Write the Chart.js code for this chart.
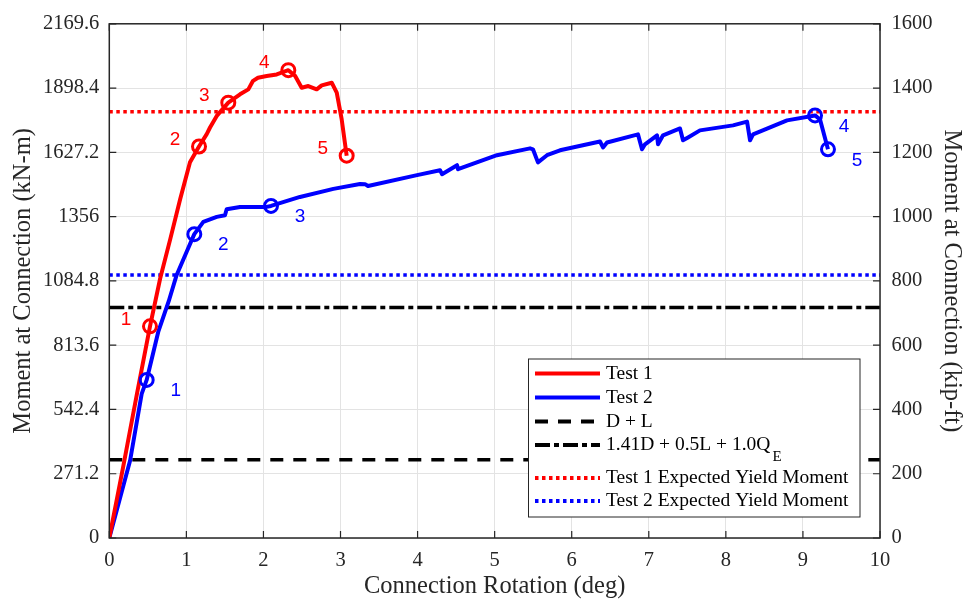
<!DOCTYPE html>
<html><head><meta charset="utf-8">
<script src="https://cdn.jsdelivr.net/npm/chart.js@4"></script>
<style>html,body{margin:0;padding:0;background:#fff}#wrap{width:965px;height:599px;position:relative}canvas{display:block}</style>
</head><body><div id="wrap"><canvas id="c" width="965" height="599"></canvas></div>
<script>
// ---- Data (rotation in deg, moment in kN-m) ----
const test1Rotation = [0, 0.18, 0.36, 0.528, 0.66, 0.79, 0.92, 1.047, 1.164, 1.264, 1.307, 1.394, 1.544, 1.696, 1.804, 1.865, 1.929, 2.042, 2.172, 2.323, 2.41, 2.496, 2.582, 2.691, 2.756, 2.886, 2.951, 3.015, 3.08];
const test1Moment   = [0, 300, 610, 893, 1095, 1260, 1430, 1585, 1652, 1704, 1732, 1781, 1837, 1872, 1893, 1929, 1942, 1949, 1956, 1974, 1950, 1900, 1907, 1893, 1910, 1921, 1879, 1767, 1613];

const test2Rotation = [0, 0.27, 0.42, 0.485, 0.637, 0.77, 0.874, 1.004, 1.103, 1.22, 1.394, 1.501, 1.523, 1.696, 2.042, 2.098, 2.474, 2.908, 3.253, 3.318, 3.357, 3.993, 4.291, 4.317, 4.512, 4.525, 5.03, 5.459, 5.497, 5.562, 5.679, 5.848, 6.367, 6.406, 6.458, 6.86, 6.912, 6.951, 7.107, 7.12, 7.185, 7.405, 7.444, 7.509, 7.664, 8.093, 8.275, 8.314, 8.353, 8.794, 9.157, 9.222, 9.325];
const test2Moment   = [0, 327, 608, 667, 872, 998, 1110, 1208, 1282, 1334, 1355, 1362, 1387, 1397, 1397, 1401, 1439, 1473, 1494, 1493, 1485, 1531, 1552, 1535, 1573, 1556, 1615, 1644, 1640, 1585, 1615, 1636, 1673, 1648, 1669, 1703, 1640, 1661, 1699, 1661, 1699, 1728, 1678, 1690, 1720, 1741, 1757, 1678, 1703, 1762, 1783, 1766, 1640];

const test1MarkerRotation = [0.528, 1.164, 1.544, 2.323, 3.08];
const test1MarkerMoment   = [893, 1652, 1837, 1974, 1613];
const test2MarkerRotation = [0.485, 1.103, 2.098, 9.157, 9.325];
const test2MarkerMoment   = [667, 1282, 1401, 1783, 1640];
const markerLabels = ['1', '2', '3', '4', '5'];

const deadLive = 330;           // D + L
const seismicCombo = 973;       // 1.41D + 0.5L + 1.0QE
const test1Yield = 1798;        // Test 1 expected yield moment
const test2Yield = 1110;        // Test 2 expected yield moment

const xRange = [0, 10];
const xTicks = [0, 1, 2, 3, 4, 5, 6, 7, 8, 9, 10];
const leftTicks = [0, 271.2, 542.4, 813.6, 1084.8, 1356, 1627.2, 1898.4, 2169.6];
const rightTicks = [0, 200, 400, 600, 800, 1000, 1200, 1400, 1600];

const legendLabels = ['Test 1', 'Test 2', 'D + L', '1.41D + 0.5L + 1.0Q', 'Test 1 Expected Yield Moment', 'Test 2 Expected Yield Moment'];

// ---- helpers ----
const pts = (xs, ys) => xs.map((x, i) => ({x, y: ys[i]}));
const hline = v => [{x: xRange[0], y: v}, {x: xRange[1], y: v}];
const RED = '#ff0000', BLUE = '#0000ff', BLACK = '#000000', AX = '#262626';
const SERIF = '"Liberation Serif", "Times New Roman", serif';

const lineDS = (label, data, color, dash, width, order) => ({
  label, data, borderColor: color, backgroundColor: color, borderWidth: width,
  borderDash: dash, pointRadius: 0, showLine: true, fill: false, tension: 0, order,
  borderCapStyle: 'butt', borderJoinStyle: 'round', yAxisID: 'y'
});

const datasets = [
  lineDS(legendLabels[0], pts(test1Rotation, test1Moment), RED, [], 4, 2),
  lineDS(legendLabels[1], pts(test2Rotation, test2Moment), BLUE, [], 4, 3),
  lineDS(legendLabels[2], hline(deadLive), BLACK, [13, 10], 3.5, 8),
  lineDS(legendLabels[3], hline(seismicCombo), BLACK, [15, 4, 5, 4], 3.5, 7),
  lineDS(legendLabels[4], hline(test1Yield), RED, [3.5, 3.5], 3.5, 6),
  lineDS(legendLabels[5], hline(test2Yield), BLUE, [3.5, 3.5], 3.5, 5),
  { label: 'Test 1 points', data: pts(test1MarkerRotation, test1MarkerMoment), showLine: false,
    pointRadius: 6.5, pointBorderWidth: 3, pointBorderColor: RED, pointBackgroundColor: 'rgba(0,0,0,0)',
    pointHoverRadius: 6.5, order: 0, yAxisID: 'y', markerColor: RED, labelOffset: [-24, -7] },
  { label: 'Test 2 points', data: pts(test2MarkerRotation, test2MarkerMoment), showLine: false,
    pointRadius: 6.5, pointBorderWidth: 3, pointBorderColor: BLUE, pointBackgroundColor: 'rgba(0,0,0,0)',
    pointHoverRadius: 6.5, order: 1, yAxisID: 'y', markerColor: BLUE, labelOffset: [29, 11] }
];

const decor = {
  id: 'decor',
  afterDatasetsDraw(chart) {
    const {ctx, chartArea: ca, scales} = chart;
    const xs = scales.x, ys = scales.y, yr = scales.y2;
    ctx.save();
    // inward ticks
    ctx.strokeStyle = AX; ctx.lineWidth = 1.2;
    const TL = 7;
    ctx.beginPath();
    xs.ticks.forEach(t => { const px = xs.getPixelForValue(t.value);
      ctx.moveTo(px, ca.bottom); ctx.lineTo(px, ca.bottom - TL);
      ctx.moveTo(px, ca.top); ctx.lineTo(px, ca.top + TL); });
    ys.ticks.forEach(t => { const py = ys.getPixelForValue(t.value);
      ctx.moveTo(ca.left, py); ctx.lineTo(ca.left + TL, py); });
    yr.ticks.forEach(t => { const py = yr.getPixelForValue(t.value);
      ctx.moveTo(ca.right, py); ctx.lineTo(ca.right - TL, py); });
    ctx.stroke();
    // box
    ctx.lineWidth = 1.5;
    ctx.strokeRect(ca.left, ca.top, ca.right - ca.left, ca.bottom - ca.top);

    // marker numbers
    ctx.font = '19px "Liberation Sans", Arial, sans-serif';
    ctx.textAlign = 'center'; ctx.textBaseline = 'middle';
    chart.data.datasets.forEach(ds => {
      if (!ds.labelOffset) return;
      ctx.fillStyle = ds.markerColor;
      ds.data.forEach((p, i) => {
        const px = xs.getPixelForValue(p.x) + ds.labelOffset[0];
        const py = ys.getPixelForValue(p.y) + ds.labelOffset[1];
        ctx.fillText(markerLabels[i], px, py);
      });
    });

    // legend
    const L = 528.5, T = 359, W = 331.5, H = 158;
    ctx.fillStyle = '#ffffff';
    ctx.fillRect(L, T, W, H);
    ctx.strokeStyle = AX; ctx.lineWidth = 1;
    ctx.strokeRect(L, T, W, H);
    const rowsY = [373.5, 397.5, 421.5, 445, 478, 501];
    ctx.font = '19.5px ' + SERIF;
    ctx.textAlign = 'left'; ctx.textBaseline = 'middle';
    for (let i = 0; i < 6; i++) {
      const ds = chart.data.datasets[i];
      ctx.beginPath();
      ctx.strokeStyle = ds.borderColor; ctx.lineWidth = 4;
      ctx.setLineDash(ds.borderDash || []);
      ctx.lineCap = 'butt';
      ctx.moveTo(535, rowsY[i]); ctx.lineTo(600, rowsY[i]);
      ctx.stroke();
      ctx.setLineDash([]);
      ctx.fillStyle = '#000';
      ctx.fillText(legendLabels[i], 606, rowsY[i]);
      if (i === 3) {
        const w = ctx.measureText(legendLabels[i]).width;
        ctx.font = '15px ' + SERIF;
        ctx.fillText('E', 606 + w + 2, rowsY[i] + 12);
        ctx.font = '19.5px ' + SERIF;
      }
    }
    ctx.restore();
  }
};

new Chart(document.getElementById('c'), {
  type: 'scatter',
  data: { datasets },
  options: {
    responsive: false, animation: false, devicePixelRatio: 1,
    layout: { padding: { top: 17, left: 0, right: 0, bottom: 0 } },
    plugins: { legend: { display: false }, tooltip: { enabled: false } },
    scales: {
      x: {
        type: 'linear', min: xRange[0], max: xRange[1],
        afterFit: s => { s.height = 61; },
        afterBuildTicks: s => { s.ticks = xTicks.map(v => ({value: v})); },
        ticks: { padding: 10, color: AX, font: { family: SERIF, size: 20.5 }, callback: v => String(v) },
        grid: { color: '#e3e3e3', lineWidth: 1, drawTicks: false },
        border: { display: false },
        title: { display: true, text: 'Connection Rotation (deg)', color: AX,
          font: { family: SERIF, size: 24.5, lineHeight: 1 }, padding: { top: 0, bottom: 0 } }
      },
      y: {
        type: 'linear', position: 'left', min: 0, max: leftTicks[leftTicks.length - 1],
        afterFit: s => { s.width = 109.3; },
        afterBuildTicks: s => { s.ticks = leftTicks.map(v => ({value: v})); },
        ticks: { padding: 10, color: AX, font: { family: SERIF, size: 20.5 },
          callback: v => String(v) },
        grid: { color: '#e3e3e3', lineWidth: 1, drawTicks: false },
        border: { display: false },
        title: { display: true, text: 'Moment at Connection (kN-m)', color: AX,
          font: { family: SERIF, size: 24.5, lineHeight: 1 }, padding: { top: 11, bottom: 0 } }
      },
      y2: {
        type: 'linear', position: 'right', min: 0, max: rightTicks[rightTicks.length - 1],
        afterFit: s => { s.width = 85; },
        afterBuildTicks: s => { s.ticks = rightTicks.map(v => ({value: v})); },
        ticks: { padding: 11.5, color: AX, font: { family: SERIF, size: 20.5 }, callback: v => String(v) },
        grid: { drawOnChartArea: false, drawTicks: false },
        border: { display: false },
        title: { display: true, text: 'Moment at Connection (kip-ft)', color: AX,
          font: { family: SERIF, size: 24.5, lineHeight: 1 }, padding: { top: 1, bottom: 0 } }
      }
    }
  },
  plugins: [decor]
});
</script></body></html>
